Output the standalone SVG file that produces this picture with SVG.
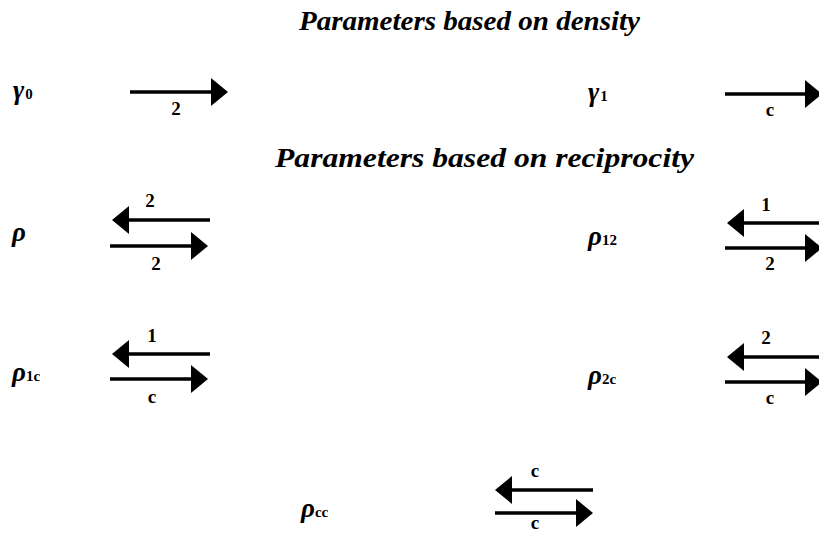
<svg xmlns="http://www.w3.org/2000/svg" width="819" height="533" viewBox="0 0 819 533">
  <style>
    .title { font-family: "Liberation Serif", "Times New Roman", serif; font-style: italic; font-weight: bold; font-size: 27px; fill: #000; }
    .sym { font-family: "Liberation Serif", "Times New Roman", serif; font-style: italic; font-weight: bold; font-size: 27px; fill: #000; }
    .sub { font-family: "Liberation Serif", "Times New Roman", serif; font-style: normal; font-weight: bold; font-size: 15px; fill: #000; }
    .num { font-family: "Liberation Serif", "Times New Roman", serif; font-weight: bold; font-size: 19px; fill: #000; text-anchor: middle; }
    .arr { stroke: #000; stroke-width: 3.5; fill: none; marker-end: url(#head); }
  </style>
  <defs>
    <marker id="head" markerUnits="userSpaceOnUse" markerWidth="18" markerHeight="30" refX="14" refY="14" orient="auto">
      <path d="M0,0 L17,14 L0,28 Z" fill="#000"/>
    </marker>
  </defs>
  <rect width="819" height="533" fill="#fff"/>

  <!-- section headings -->
  <g id="heading-density">
    <text class="title" x="299" y="30" textLength="341" lengthAdjust="spacingAndGlyphs">Parameters based on density</text>
  </g>
  <g id="heading-reciprocity">
    <text class="title" x="275" y="167" textLength="419" lengthAdjust="spacingAndGlyphs">Parameters based on reciprocity</text>
  </g>

  <!-- parameter symbols -->
  <g id="gamma0"><text class="sym" x="13" y="99">γ<tspan class="sub" dx="1">0</tspan></text></g>
  <g id="gamma1"><text class="sym" x="588" y="101">γ<tspan class="sub" dx="1">1</tspan></text></g>
  <g id="rho"><text class="sym" x="12" y="241">ρ</text></g>
  <g id="rho12"><text class="sym" x="588" y="245">ρ<tspan class="sub">12</tspan></text></g>
  <g id="rho1c"><text class="sym" x="12" y="381">ρ<tspan class="sub">1c</tspan></text></g>
  <g id="rho2c"><text class="sym" x="588" y="384">ρ<tspan class="sub">2c</tspan></text></g>
  <g id="rhocc"><text class="sym" x="301" y="517">ρ<tspan class="sub">cc</tspan></text></g>

  <!-- tie arrows with their actor-type labels -->
  <g id="connectors">
    <!-- gamma0 -->
    <line class="arr" x1="130" y1="92" x2="225" y2="92"/>
    <text class="num" x="176" y="115">2</text>
    <!-- gamma1 -->
    <line class="arr" x1="725" y1="94" x2="819" y2="94"/>
    <text class="num" x="770" y="116">c</text>

    <!-- rho -->
    <line class="arr" x1="210" y1="220" x2="115" y2="220"/>
    <text class="num" x="150" y="207">2</text>
    <line class="arr" x1="110" y1="246" x2="205" y2="246"/>
    <text class="num" x="156" y="270">2</text>

    <!-- rho12 -->
    <line class="arr" x1="825" y1="223" x2="730" y2="223"/>
    <text class="num" x="766" y="211">1</text>
    <line class="arr" x1="725" y1="248" x2="819" y2="248"/>
    <text class="num" x="770" y="270">2</text>

    <!-- rho1c -->
    <line class="arr" x1="210" y1="354" x2="115" y2="354"/>
    <text class="num" x="152" y="342">1</text>
    <line class="arr" x1="110" y1="379" x2="205" y2="379"/>
    <text class="num" x="152" y="403">c</text>

    <!-- rho2c -->
    <line class="arr" x1="825" y1="357" x2="730" y2="357"/>
    <text class="num" x="766" y="344">2</text>
    <line class="arr" x1="725" y1="382" x2="819" y2="382"/>
    <text class="num" x="770" y="404">c</text>

    <!-- rhocc -->
    <line class="arr" x1="593" y1="490" x2="498" y2="490"/>
    <text class="num" x="535" y="477">c</text>
    <line class="arr" x1="495" y1="513" x2="590" y2="513"/>
    <text class="num" x="535" y="529">c</text>
  </g>
</svg>
